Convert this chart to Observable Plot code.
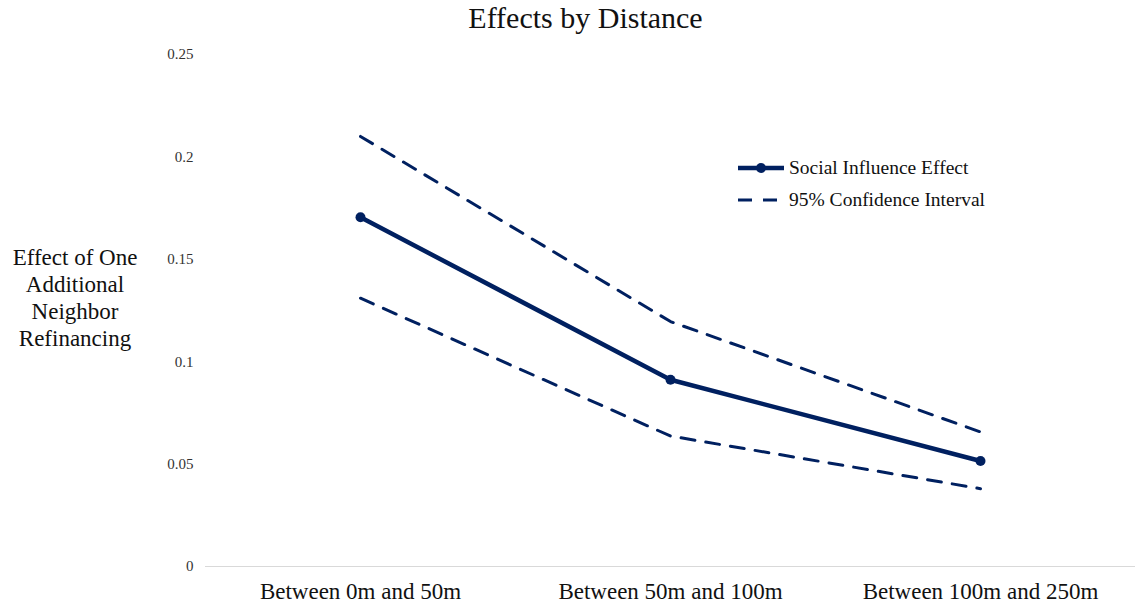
<!DOCTYPE html>
<html>
<head>
<meta charset="utf-8">
<script src="https://cdn.jsdelivr.net/npm/d3@7"></script>
<script src="https://cdn.jsdelivr.net/npm/@observablehq/plot@0.6"></script>
<style>
  html, body { margin: 0; padding: 0; background: #fff; }
  body { width: 1135px; height: 609px; position: relative; overflow: hidden; font-family: "Liberation Serif", "Times New Roman", "DejaVu Serif", serif; }
  #title { height: 36px; line-height: 36px; text-align: center; font-size: 30px; color: #111; padding-left: 36px; }
  #ylab { position: absolute; left: 0; width: 150px; top: 244px; text-align: center; font-size: 23px; line-height: 27px; color: #111; }
  #legend { position: absolute; left: 738px; top: 152px; font-size: 19.5px; color: #111; }
  #legend .row { display: flex; align-items: center; height: 32px; }
  #legend svg { margin-right: 5px; }
</style>
</head>
<body>
<div id="title">Effects by Distance</div>
<div id="chart"></div>
<div id="ylab">Effect of One<br>Additional<br>Neighbor<br>Refinancing</div>
<div id="legend"></div>
<script>
const categories = ["Between 0m and 50m", "Between 50m and 100m", "Between 100m and 250m"];
const effect = [0.1705, 0.0912, 0.0515];
const upperCI = [0.210, 0.1196, 0.0657];
const lowerCI = [0.131, 0.0637, 0.038];
const yTicks = [0, 0.05, 0.1, 0.15, 0.2, 0.25];
const seriesNames = ["Social Influence Effect", "95% Confidence Interval"];

const navy = "#002060";
const rows = categories.map((c, i) => ({cat: c, effect: effect[i], upper: upperCI[i], lower: lowerCI[i]}));

const chart = Plot.plot({
  width: 1135,
  height: 573,
  marginLeft: 205,
  marginRight: 0,
  marginTop: 18,
  marginBottom: 43,
  style: {fontFamily: "'Liberation Serif', 'Times New Roman', 'DejaVu Serif', serif", background: "#fff"},
  x: {type: "point", domain: categories, padding: 0.5, label: null},
  y: {domain: [0, 0.25], label: null},
  marks: [
    Plot.ruleY([0], {stroke: "#d9d9d9", strokeWidth: 1.2}),
    Plot.axisY({ticks: yTicks, tickSize: 0, tickPadding: 12, fontSize: 15, fill: "#333", tickFormat: d => String(d), label: null}),
    Plot.axisX({tickSize: 0, tickPadding: 16, fontSize: 23, fill: "#111", label: null}),
    Plot.line(rows, {x: "cat", y: "upper", stroke: navy, strokeWidth: 3, strokeDasharray: "14,11"}),
    Plot.line(rows, {x: "cat", y: "lower", stroke: navy, strokeWidth: 3, strokeDasharray: "14,11"}),
    Plot.line(rows, {x: "cat", y: "effect", stroke: navy, strokeWidth: 4.5}),
    Plot.dot(rows, {x: "cat", y: "effect", fill: navy, r: 5})
  ]
});
document.getElementById("chart").appendChild(chart);

const legend = document.getElementById("legend");
legend.innerHTML = `
  <div class="row"><svg width="46" height="14"><line x1="0" y1="7" x2="46" y2="7" stroke="${navy}" stroke-width="4.5"/><circle cx="23" cy="7" r="5" fill="${navy}"/></svg><span>${seriesNames[0]}</span></div>
  <div class="row"><svg width="46" height="14"><line x1="0" y1="7" x2="46" y2="7" stroke="${navy}" stroke-width="3" stroke-dasharray="14,11"/></svg><span>${seriesNames[1]}</span></div>`;
</script>
</body>
</html>
